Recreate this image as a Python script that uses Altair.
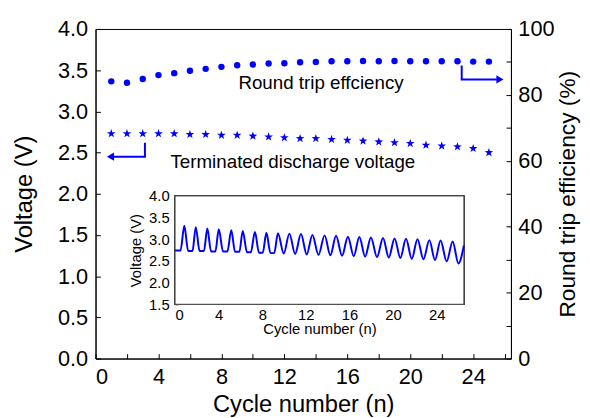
import altair as alt
import pandas as pd

# ---------------- data ----------------
cycles = list(range(1, 26))
discharge_voltage = [2.73, 2.73, 2.73, 2.73, 2.73, 2.72, 2.72, 2.71, 2.71, 2.70,
                     2.69, 2.68, 2.67, 2.67, 2.66, 2.65, 2.64, 2.63, 2.62, 2.61,
                     2.59, 2.58, 2.57, 2.55, 2.50]
round_trip_eff = [84.1, 83.7, 84.8, 86.0, 86.6, 87.3, 87.9, 88.5, 89.0, 89.2,
                  89.5, 89.6, 89.9, 90.0, 90.2, 90.2, 90.3, 90.2, 90.3, 90.2,
                  90.2, 90.2, 90.2, 90.1, 90.1]

inset_cycle = [0.0, 0.5, 0.85, 1.2, 1.6, 1.90, 2.25, 2.65, 2.96, 3.3, 3.7, 4.01,
               4.4, 4.8, 5.16, 5.5, 5.9, 6.21, 6.6, 6.95, 7.33, 7.7, 8.05, 8.38,
               8.75, 9.1, 9.44, 9.97, 10.49, 11.02, 11.55, 12.08, 12.60, 13.16,
               13.72, 14.25, 14.77, 15.32, 15.86, 16.39, 16.91, 17.44, 17.97,
               18.53, 19.08, 19.61, 20.14, 20.67, 21.19, 21.72, 22.24, 22.79,
               23.33, 23.85, 24.36, 24.92, 25.47, 26.0, 26.5]
inset_voltage = [2.74, 2.74, 3.31, 2.73, 2.73, 3.28, 2.73, 2.73, 3.25, 2.72, 2.72, 3.23,
                 2.72, 2.72, 3.21, 2.71, 2.71, 3.19, 2.70, 2.70, 3.17, 2.69, 2.69, 3.15,
                 2.68, 2.68, 3.14, 2.67, 3.13, 2.66, 3.12, 2.65, 3.10, 2.64,
                 3.09, 2.63, 3.08, 2.62, 3.06, 2.61, 3.05, 2.60, 3.04,
                 2.59, 3.03, 2.58, 3.02, 2.57, 3.01, 2.55, 3.00, 2.54,
                 2.98, 2.52, 2.97, 2.49, 2.95, 2.44, 2.86]

main_x_ticks = [0, 4, 8, 12, 16, 20, 24]
main_x_minor = [0, 2, 4, 6, 8, 10, 12, 14, 16, 18, 20, 22, 24, 26]
volt_ticks = [0.0, 0.5, 1.0, 1.5, 2.0, 2.5, 3.0, 3.5, 4.0]
eff_ticks = [0, 20, 40, 60, 80, 100]
eff_minor = [0, 10, 20, 30, 40, 50, 60, 70, 80, 90, 100]
inset_x_ticks = [0, 4, 8, 12, 16, 20, 24]
inset_x_minor = [0, 2, 4, 6, 8, 10, 12, 14, 16, 18, 20, 22, 24, 26]
inset_y_ticks = [1.5, 2.0, 2.5, 3.0, 3.5, 4.0]

label_text = ["Round trip effciency", "Terminated discharge voltage"]
label_cycle = [14.33, 12.54]
label_volt = [3.34, 2.39]

left_arrow_cycle = [3.14, 3.14, 1.1]
left_arrow_volt = [2.62, 2.45, 2.45]
left_head_cycle = [0.95]
left_head_volt = [2.45]
right_arrow_cycle = [23.27, 23.27, 25.5]
right_arrow_eff = [88.9, 84.7, 84.7]
right_head_cycle = [25.7]
right_head_eff = [84.7]

# ---------------- styling ----------------
W, H = 421, 334
FONT = "Liberation Sans"
BLUE = "#0000ff"
STAR = ("M0,-1L0.235,-0.324L0.951,-0.309L0.380,0.124L0.588,0.809L0,0.4"
        "L-0.588,0.809L-0.380,0.124L-0.951,-0.309L-0.235,-0.324Z")

df_main = pd.DataFrame({"cycle": cycles, "volt": discharge_voltage, "eff": round_trip_eff})
df_inset = pd.DataFrame({"cycle": inset_cycle, "volt": inset_voltage,
                         "idx": list(range(len(inset_cycle)))})
df_labels = pd.DataFrame({"cycle": label_cycle, "volt": label_volt, "text": label_text})
df_larrow = pd.DataFrame({"cycle": left_arrow_cycle, "volt": left_arrow_volt, "idx": [0, 1, 2]})
df_lhead = pd.DataFrame({"cycle": left_head_cycle, "volt": left_head_volt})
df_rarrow = pd.DataFrame({"cycle": right_arrow_cycle, "eff": right_arrow_eff, "idx": [0, 1, 2]})
df_rhead = pd.DataFrame({"cycle": right_head_cycle, "eff": right_head_eff})

xs_main = alt.Scale(domain=[0, 26.4], nice=False, zero=False)
ys_volt = alt.Scale(domain=[0, 4], nice=False, zero=False)
ys_eff = alt.Scale(domain=[0, 100], nice=False, zero=False)
xs_in = alt.Scale(domain=[0, 26.5], range=[80.6, 373.3], nice=False, zero=False)
ys_in = alt.Scale(domain=[1.5, 4.0], range=[279, 169.2], nice=False, zero=False)

ax_x = alt.Axis(orient="bottom", values=main_x_ticks, ticks=False, tickSize=0,
                labelPadding=8, labelFontSize=22, title="Cycle number (n)",
                titleFontSize=24, titlePadding=6)
ax_v = alt.Axis(orient="left", values=volt_ticks, format=".1f", ticks=False, tickSize=0,
                labelPadding=8, labelFontSize=22, title="Voltage (V)",
                titleFontSize=24, titlePadding=21)
ax_e = alt.Axis(orient="right", values=eff_ticks, ticks=False, tickSize=0,
                labelPadding=7, labelFontSize=22, title="Round trip efficiency (%)",
                titleFontSize=23, titleAngle=270, titleBaseline="top", titlePadding=3)
ax_ix = alt.Axis(orient="bottom", offset=-(H - 279), values=inset_x_ticks, ticks=False,
                 tickSize=0, domain=False, labelPadding=3, labelFontSize=15,
                 title="Cycle number (n)", titleFontSize=15, titlePadding=0)
ax_iy = alt.Axis(orient="left", offset=-80.6, values=inset_y_ticks, format=".1f",
                 ticks=False, tickSize=0, domain=False, labelPadding=6, labelFontSize=15,
                 title="Voltage (V)", titleFontSize=15, titlePadding=5)


def mx(field="cycle"):
    return alt.X(f"{field}:Q", scale=xs_main, axis=ax_x)


def mv(field="volt"):
    return alt.Y(f"{field}:Q", scale=ys_volt, axis=ax_v)


# ---- main (voltage) group
stars = alt.Chart(df_main).mark_point(shape=STAR, filled=True, size=85, color=BLUE,
                                      opacity=1).encode(x=mx(), y=mv())
labels = alt.Chart(df_labels).mark_text(font=FONT, fontSize=19, color="black",
                                        align="center", baseline="middle").encode(
    x=mx(), y=mv(), text="text:N")
larrow = alt.Chart(df_larrow).mark_line(color=BLUE, strokeWidth=2).encode(
    x=mx(), y=mv(), order="idx:Q")
lhead = alt.Chart(df_lhead).mark_point(shape="triangle-left", filled=True, size=70,
                                       color=BLUE, opacity=1).encode(x=mx(), y=mv())
main_group = alt.layer(stars, labels, larrow, lhead)

# ---- efficiency group
ex = alt.X("cycle:Q", scale=xs_main, axis=None)
ey = alt.Y("eff:Q", scale=ys_eff, axis=ax_e)
circles = alt.Chart(df_main).mark_circle(size=42, color=BLUE, opacity=1).encode(x=ex, y=ey)
rarrow = alt.Chart(df_rarrow).mark_line(color=BLUE, strokeWidth=2).encode(
    x=ex, y=ey, order="idx:Q")
rhead = alt.Chart(df_rhead).mark_point(shape="triangle-right", filled=True, size=70,
                                       color=BLUE, opacity=1).encode(x=ex, y=ey)
eff_group = alt.layer(circles, rarrow, rhead)

# ---- inward tick marks (axes turned to face the plot)
tick_x = alt.Chart(df_main).mark_point(opacity=0).encode(
    x=alt.X("cycle:Q", scale=xs_main,
            axis=alt.Axis(orient="top", offset=-H, values=main_x_minor, labels=False,
                          domain=False, tickSize=5, title=None)))
tick_v = alt.Chart(df_main).mark_point(opacity=0).encode(
    y=alt.Y("volt:Q", scale=ys_volt,
            axis=alt.Axis(orient="right", offset=-W, values=volt_ticks, labels=False,
                          domain=False, tickSize=5, title=None)))
tick_e = alt.Chart(df_main).mark_point(opacity=0).encode(
    y=alt.Y("eff:Q", scale=ys_eff,
            axis=alt.Axis(orient="left", offset=-W, values=eff_minor, labels=False,
                          domain=False, tickSize=5, title=None)))
tick_ix = alt.Chart(df_inset).mark_point(opacity=0).encode(
    x=alt.X("cycle:Q", scale=xs_in,
            axis=alt.Axis(orient="top", offset=-279, values=inset_x_minor, labels=False,
                          domain=False, tickSize=3, title=None)))
tick_iy = alt.Chart(df_inset).mark_point(opacity=0).encode(
    y=alt.Y("volt:Q", scale=ys_in,
            axis=alt.Axis(orient="right", offset=-(W - 80.6), values=inset_y_ticks,
                          labels=False, domain=False, tickSize=3, title=None)))

# ---- inset
ix = alt.X("cycle:Q", scale=xs_in, axis=ax_ix)
iy = alt.Y("volt:Q", scale=ys_in, axis=ax_iy)
frame = alt.Chart(df_inset).mark_rect(fill="white", stroke="#444444", strokeWidth=1).encode(
    x=alt.X(datum=0, type="quantitative", scale=xs_in, axis=ax_ix),
    x2=alt.X2(datum=26.5),
    y=alt.Y(datum=1.5, type="quantitative", scale=ys_in, axis=ax_iy),
    y2=alt.Y2(datum=4.0))
inset_line = alt.Chart(df_inset).mark_line(color=BLUE, strokeWidth=2,
                                           interpolate="monotone").encode(
    x=ix, y=iy, order="idx:Q")
inset_group = alt.layer(frame, inset_line)

chart = alt.layer(main_group, eff_group, tick_x, tick_v, tick_e, inset_group,
                  tick_ix, tick_iy).resolve_scale(
    x="independent", y="independent"
).properties(
    width=W, height=H,
    autosize=alt.AutoSizeParams(type="none"),
    padding={"left": 88.7, "top": 18.5, "right": 72, "bottom": 57},
).configure_view(
    stroke="black", strokeWidth=1
).configure_axis(
    grid=False, labelFont=FONT, titleFont=FONT, titleFontWeight="normal",
    labelColor="black", titleColor="black", domainColor="black", tickColor="black",
)

chart.save("out.html", embed_options={"renderer": "svg", "actions": False})
